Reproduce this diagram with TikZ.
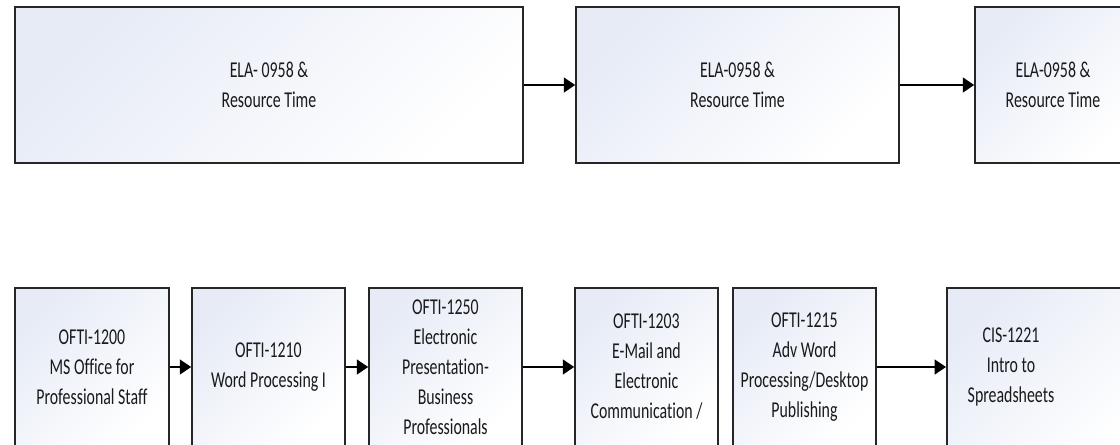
\documentclass[tikz,border=0pt]{standalone}
\usepackage{fontspec}
\setmainfont{Carlito}[FakeStretch=0.7, Ligatures=NoCommon]
\usetikzlibrary{arrows.meta}
\definecolor{boxtint}{HTML}{E6EBF6}
\definecolor{boxline}{HTML}{262626}
\definecolor{boxtext}{HTML}{1A1A1A}

\begin{document}
\begin{tikzpicture}[
    x=0.75pt,y=-0.75pt,
    box/.style={draw=boxline, line width=1.2pt, rectangle, inner sep=0pt,
      top color=boxtint, bottom color=white, shading angle=45,
      text=boxtext, align=center, font=\fontsize{17}{22.5}\selectfont},
    label/.style={text=boxtext, align=center, inner sep=0pt,
      font=\fontsize{17}{22.5}\selectfont},
    line/.style={line width=1.6pt, -{Triangle[length=8.5pt,width=11pt]}}
    ]
    \path[use as bounding box, clip] (0,0) rectangle (1120,444);
    % top row
    \node[box, minimum width=381pt, minimum height=117pt] (ela1) at (269,85)
      {ELA- 0958 \&\\Resource Time};
    \node[box, minimum width=242.25pt, minimum height=117pt] (ela2) at (737.5,85)
      {ELA-0958 \&\\Resource Time};
    \node[box, minimum width=117pt, minimum height=117pt] (ela3) at (1053,85)
      {ELA-0958 \&\\Resource Time};
    \draw[line] (ela1) -- (ela2);
    \draw[line] (ela2) -- (ela3);
    % bottom row
    \node[box, minimum width=115.5pt, minimum height=118.5pt] (o1200) at (92,367)
      {OFTI-1200\\MS Office for\\Professional Staff};
    \node[box, minimum width=114.75pt, minimum height=118.5pt] (o1210) at (268.5,367)
      {OFTI-1210\\Word Processing I};
    \node[box, minimum width=114.75pt, minimum height=118.5pt] (o1250) at (445.5,367)
      {OFTI-1250\\Electronic\\Presentation-\\Business\\Professionals};
    \node[box, minimum width=107.25pt, minimum height=118.5pt] (o1203) at (646.5,367)
      {OFTI-1203\\E-Mail and\\Electronic\\Communication /};
    \node[box, minimum width=107.25pt, minimum height=118.5pt] (o1215) at (804.5,367)
      {OFTI-1215\\Adv Word\\Processing/Desktop\\Publishing};
    \node[box, minimum width=160pt, minimum height=118.5pt] (cis) at (1053.5,367) {};
    \node[label] (cistext) at (1011,367) {CIS-1221\\Intro to\\Spreadsheets};
    \draw[line] (o1200) -- (o1210);
    \draw[line] (o1210) -- (o1250);
    \draw[line] (o1250) -- (o1203);
    \draw[line] (o1215) -- (cis);
  \end{tikzpicture}
\end{document}
